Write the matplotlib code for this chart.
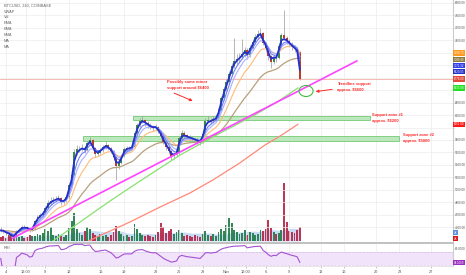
import matplotlib
matplotlib.use("Agg")
import matplotlib.pyplot as plt
import matplotlib.dates as mdates
import matplotlib.transforms as mtransforms
from matplotlib.patches import Ellipse, Rectangle
import numpy as np
import pandas as pd

# BTC/USD, Coinbase (8h candles, starting 3 Oct 2017 08:00)
first_open = 4360
closes = [4347, 4339, 4306, 4290, 4258, 4242, 4339, 4362, 4403, 4395,
          4387, 4362, 4371, 4500, 4564, 4596, 4628, 4708, 4788, 4820,
          4836, 4852, 4868, 4804, 4820, 4885, 5077, 5238, 5607, 5655,
          5662, 5678, 5639, 5752, 5800, 5671, 5575, 5591, 5639, 5688,
          5720, 5671, 5623, 5527, 5382, 5431, 5543, 5655, 5678, 5671,
          5688, 5912, 6041, 6105, 6121, 6073, 6041, 6009, 5993, 6009,
          5945, 5864, 5768, 5688, 5623, 5543, 5559, 5591, 5832, 5912,
          5880, 5848, 5832, 5816, 5800, 5784, 5768, 5896, 6105, 6121,
          6105, 6137, 6153, 6282, 6475, 6619, 6731, 6860, 6988, 7069,
          7101, 7133, 7181, 7245, 7165, 7277, 7374, 7454, 7502, 7518,
          7358, 7277, 7149, 7053, 7133, 7117, 7310, 7480, 7430, 7390,
          7342, 7294, 7261, 7213, 6776]
highs = [4400, 4370, 4360, 4330, 4310, 4280, 4350, 4390, 4430, 4440,
         4420, 4400, 4390, 4520, 4590, 4620, 4660, 4740, 4830, 4880,
         4890, 4900, 4910, 4880, 4850, 4910, 5110, 5290, 5650, 5720,
         5700, 5730, 5700, 5790, 5850, 5820, 5690, 5640, 5670, 5720,
         5780, 5740, 5690, 5640, 5550, 5480, 5570, 5680, 5710, 5700,
         5720, 5950, 6080, 6150, 6190, 6140, 6100, 6070, 6040, 6050,
         6030, 5960, 5890, 5790, 5710, 5640, 5600, 5630, 5870, 5960,
         5940, 5900, 5880, 5860, 5840, 5830, 5810, 5930, 6150, 6180,
         6160, 6190, 6200, 6320, 6510, 6660, 6780, 6900, 7030, 7440,
         7180, 7200, 7420, 7300, 7270, 7320, 7420, 7500, 7560, 7600,
         7540, 7380, 7300, 7170, 7180, 7170, 7350, 7520, 7890, 7470,
         7420, 7370, 7320, 7290, 7230]
lows = [4320, 4300, 4280, 4260, 4230, 4215, 4230, 4320, 4350, 4370,
        4360, 4330, 4340, 4360, 4480, 4540, 4570, 4610, 4690, 4760,
        4790, 4800, 4820, 4760, 4770, 4800, 4870, 5050, 5220, 5560,
        5600, 5620, 5590, 5620, 5720, 5640, 5520, 5540, 5570, 5610,
        5660, 5640, 5590, 5480, 5160, 5330, 5410, 5520, 5630, 5640,
        5650, 5670, 5890, 6010, 6070, 6030, 6000, 5970, 5950, 5960,
        5910, 5820, 5730, 5640, 5570, 5480, 5500, 5520, 5570, 5800,
        5840, 5810, 5790, 5780, 5760, 5740, 5720, 5750, 5880, 6080,
        6060, 6080, 6100, 6130, 6260, 6450, 6590, 6700, 6830, 6950,
        7020, 7060, 7100, 7140, 7100, 7140, 7250, 7340, 7420, 7470,
        7320, 7220, 7080, 6960, 7020, 7060, 7100, 7290, 7400, 7340,
        7300, 7250, 7210, 7170, 6760]
volume = [1200, 1500, 900, 1800, 2400, 1500, 1800, 1200, 1500, 900,
          1200, 1800, 1500, 1500, 2100, 1800, 2400, 3600, 3000, 4200,
          1800, 1500, 2100, 1500, 1200, 1800, 3900, 6000, 8400, 3600,
          2400, 1800, 3000, 4200, 3600, 2400, 1800, 1500, 2100, 1500,
          1800, 1200, 1800, 2700, 4500, 3000, 2100, 1500, 1800, 1200,
          1500, 5100, 3600, 2400, 1800, 1500, 1800, 1500, 1200, 1800,
          2700, 5400, 4200, 2400, 3000, 3600, 2100, 2700, 3300, 2400,
          1500, 1800, 1500, 1200, 1800, 1500, 1200, 2100, 3000, 1800,
          1500, 2100, 1500, 2700, 3600, 3000, 4800, 6900, 5400, 3300,
          2700, 2100, 2400, 3300, 1800, 2700, 2400, 1800, 2100, 3300,
          3000, 3600, 6300, 3900, 2700, 2100, 2400, 3300, 17400, 5700,
          3000, 2700, 2400, 3300, 4200]

# long moving averages, points read along the green and salmon lines
green_ma_times = ["2017-10-08 08:00", "2017-10-09 14:00", "2017-10-13 10:00",
                  "2017-10-17 05:00", "2017-10-21 01:00", "2017-10-26 03:00",
                  "2017-10-31 05:00", "2017-11-04 15:00", "2017-11-07 20:00",
                  "2017-11-10 02:00"]
green_ma_values = [4066, 4146, 4483, 4820, 5142, 5559, 5912, 6202, 6442, 6635]
red_ma_times = ["2017-10-12 18:00", "2017-10-15 13:00", "2017-10-19 18:00",
                "2017-10-23 14:00", "2017-10-27 09:00", "2017-10-30 07:00",
                "2017-11-02 17:00", "2017-11-05 22:00", "2017-11-07 20:00",
                "2017-11-10 02:00"]
red_ma_values = [4066, 4242, 4483, 4724, 4949, 5158, 5431, 5720, 5864, 6051]

# drawings
trend_times = ["2017-10-04 21:00", "2017-11-17 14:00"]
trend_values = [4226, 7069]
zone1_times = ["2017-10-20 02:00", "2017-11-19 06:00"]
zone1_prices = [6120, 6190]
zone2_times = ["2017-10-13 19:00", "2017-11-23 00:00"]
zone2_prices = [5790, 5860]

date_ticks = ["2017-10-04", "2017-10-06 12:00", "2017-10-09", "2017-10-12",
              "2017-10-16", "2017-10-19", "2017-10-23", "2017-10-26",
              "2017-10-29", "2017-11-01", "2017-11-03 12:00", "2017-11-06",
              "2017-11-09", "2017-11-13", "2017-11-16", "2017-11-20",
              "2017-11-23", "2017-11-27"]
date_labels = ["4", "12:00", "9", "12", "16", "19", "23", "26", "29", "Nov",
               "12:00", "6", "9", "13", "16", "20", "23", "27"]
price_ticks = np.arange(4400, 8001, 200)


def dnum(s):
    return mdates.date2num(pd.to_datetime(s))


times = pd.date_range("2017-10-03 08:00", periods=len(closes), freq="8h")
x = mdates.date2num(times)
c = pd.Series(closes, dtype=float)
opens = np.array([first_open] + closes[:-1], dtype=float)
up = c.values >= opens

vwap = c.ewm(span=2, adjust=False).mean()
ema_fast = c.ewm(span=4, adjust=False).mean()
ema_mid = c.ewm(span=6, adjust=False).mean()
ema_orange = c.ewm(span=11, adjust=False).mean()
ema_tan = c.ewm(span=27, adjust=False).mean()

delta = c.diff().fillna(0)
gain = delta.clip(lower=0).ewm(alpha=1 / 14, adjust=False).mean()
loss = (-delta.clip(upper=0)).ewm(alpha=1 / 14, adjust=False).mean()
rsi = (100 - 100 / (1 + gain / loss.replace(0, np.nan))).fillna(50)

vol = pd.Series(volume, dtype=float)
vol_ma = vol.rolling(20, min_periods=1).mean()

sans = ["Liberation Sans", "DejaVu Sans"]
fig = plt.figure(figsize=(4.66, 2.75), dpi=100)
W = 453 / 466
ax = fig.add_axes([0, 1 - 241 / 275, W, 241 / 275])
ax_rsi = fig.add_axes([0, 1 - 266 / 275, W, 23 / 275])
ax_vol = ax.twinx()
ax.set_zorder(ax_vol.get_zorder() + 1)
ax.patch.set_visible(False)

x0 = dnum("2017-10-04") - 0.762
x1 = dnum("2017-10-04") + 56.8
grid_c = "#ececec"
for a in (ax, ax_rsi):
    a.set_xlim(x0, x1)
    for d in date_ticks:
        a.axvline(dnum(d), color=grid_c, lw=0.5, zorder=0)
for p in price_ticks:
    ax.axhline(p, color=grid_c, lw=0.5, zorder=0)

# volume overlay
ax_vol.set_xlim(x0, x1)
ax_vol.set_ylim(0, 241 * 300)
bw = 0.333 * 0.72
vcol = np.where(up, "#1f7a45", "#b52245")
ax_vol.fill_between(x, 0, vol_ma, color="#b9d3f2", alpha=0.8, lw=0, zorder=1)
ax_vol.bar(x, vol, width=bw, color=vcol, alpha=0.9, zorder=2)
ax_vol.set_yticks([])
for s in ax_vol.spines.values():
    s.set_visible(False)

# zones
for zt, zp in ((zone1_times, zone1_prices), (zone2_times, zone2_prices)):
    ax.add_patch(Rectangle((dnum(zt[0]), zp[0]), dnum(zt[1]) - dnum(zt[0]),
                           zp[1] - zp[0], fc="#b6e6b6", ec="#78cc78", lw=0.7,
                           alpha=0.9, zorder=1))

# candles
ax.vlines(x, lows, highs, color="#9a9a9a", lw=0.5, zorder=3)
ax.bar(x, c.values - opens, bottom=opens, width=bw,
       color=np.where(up, "#3a8a4a", "#b83c2c"), zorder=4)

# moving averages
ax.plot(x, ema_tan, color="#b8a07c", lw=0.9, zorder=5)
ax.plot(x, ema_orange, color="#ffbb77", lw=0.8, zorder=5)
ax.plot(x, ema_mid, color="#aab0ff", lw=0.8, zorder=5)
ax.plot(x, ema_fast, color="#6f7dff", lw=0.8, zorder=5)
ax.plot(x, vwap, color="#2430c8", lw=1.3, zorder=6)
ax.plot([dnum(t) for t in green_ma_times], green_ma_values, color="#88e070",
        lw=0.9, zorder=5)
ax.plot([dnum(t) for t in red_ma_times], red_ma_values, color="#ff8878",
        lw=0.9, zorder=5)
ax.plot([dnum(t) for t in trend_times], trend_values, color="#ff44ff", lw=1.2,
        zorder=6)
ax.axhline(closes[-1], color="#f6b0a4", lw=0.6, zorder=2)

ax.add_patch(Ellipse((dnum("2017-11-11 03:00"), 6587), 1.78, 177, fill=False,
                     ec="#44bb44", lw=0.8, zorder=7))

red = "#ff2a2a"
notes = [("2017-10-24 11:00", 6683, "Possibly some minor\nsupport around $6400"),
         ("2017-11-15 02:00", 6651, "Trendline support\napprox. $6600"),
         ("2017-11-19 12:00", 6153, "Support zone #1\napprox. $6200"),
         ("2017-11-23 10:00", 5832, "Support zone #2\napprox. $5800")]
for when, price, txt in notes:
    ax.text(dnum(when), price, txt, color=red, fontsize=2.9, va="center",
            ha="left", linespacing=1.45, fontweight="bold", family=sans,
            zorder=8)
arrow = dict(arrowstyle="-|>", color=red, lw=0.7, mutation_scale=4)
ax.annotate("", xy=(dnum("2017-10-28 01:00"), 6410),
            xytext=(dnum("2017-10-25 01:00"), 6570), arrowprops=arrow, zorder=8)
ax.annotate("", xy=(dnum("2017-11-12 00:00"), 6571),
            xytext=(dnum("2017-11-14 19:00"), 6619), arrowprops=arrow, zorder=8)

# value tags on the price axis
tags = [(ema_orange.iloc[-1], "#ff9a1f"), (ema_fast.iloc[-1], "#3340e8"),
        (ema_tan.iloc[-1], "#8d7a3c"), (vwap.iloc[-1], "#2430c8"),
        (closes[-1], "#e24a3a"), (green_ma_values[-1], "#22e022"),
        (red_ma_values[-1], "#ff1a1a")]
tags.sort(key=lambda t: -t[0])
tag_pos = []
last_y = None
for val, col in tags:
    ypos = val if last_y is None else min(val, last_y - 96)
    last_y = ypos
    tag_pos.append((ypos, val, col))

# price axis (labels hidden under tags)
ax.set_ylim(4178, 8048)
ax.yaxis.tick_right()
ax.set_yticks(price_ticks)
ax.set_yticklabels(["" if any(abs(p - t[0]) < 110 for t in tag_pos) else f"{p:.2f}"
                    for p in price_ticks], family=sans)
ax.tick_params(axis="y", labelsize=2.2, length=1.0, width=0.4, pad=0.6,
               colors="#999999", labelcolor="#555555")
ax.set_xticks([])
for k, s in ax.spines.items():
    s.set_visible(k == "right")
ax.spines["right"].set_color("#cccccc")
ax.spines["right"].set_linewidth(0.8)

tag_kw = dict(fontsize=2.1, color="white", va="center", ha="left",
              clip_on=False, zorder=10, family=sans)
blend = mtransforms.blended_transform_factory(ax.transAxes, ax.transData)
for ypos, val, col in tag_pos:
    ax.text(1.002, ypos, f"{val:.2f}", transform=blend,
            bbox=dict(boxstyle="square,pad=0.25", fc=col, ec="none"), **tag_kw)
ax.text(1.002, 8.5 / 241, f"{vol_ma.iloc[-1] / 1000:.0f}K", transform=ax.transAxes,
        bbox=dict(boxstyle="square,pad=0.25", fc="#5a8ee0", ec="none"), **tag_kw)
ax.text(1.002, 2.5 / 241, f"{vol.iloc[-1] / 1000:.0f}K", transform=ax.transAxes,
        bbox=dict(boxstyle="square,pad=0.25", fc="#d61a1a", ec="none"), **tag_kw)

# RSI pane
ax_rsi.set_ylim(26.9, 97.7)
ax_rsi.axhspan(30, 70, color="#f1e3fa", lw=0, zorder=0)
ax_rsi.axhline(70, color="#c9a8e2", lw=0.5, ls=(0, (1, 1)), zorder=1)
ax_rsi.axhline(30, color="#c9a8e2", lw=0.5, ls=(0, (1, 1)), zorder=1)
ax_rsi.plot(x, rsi.values, color="#a452d2", lw=0.8, zorder=3)
ax_rsi.yaxis.tick_right()
ax_rsi.set_yticks([80])
ax_rsi.set_yticklabels(["80.0000"], family=sans)
ax_rsi.tick_params(axis="y", labelsize=2.2, length=1.0, width=0.4, pad=0.6,
                   colors="#999999", labelcolor="#555555")
ax_rsi.set_xticks([dnum(d) for d in date_ticks])
ax_rsi.set_xticklabels(date_labels, family=sans)
ax_rsi.tick_params(axis="x", labelsize=2.8, length=1.5, width=0.4, pad=1.5,
                   colors="#999999", labelcolor="#555555")
for k, s in ax_rsi.spines.items():
    s.set_visible(k in ("right", "top", "bottom"))
ax_rsi.spines["top"].set_color("#bbbbbb")
ax_rsi.spines["top"].set_linewidth(1.3)
ax_rsi.spines["right"].set_color("#cccccc")
ax_rsi.spines["bottom"].set_color("#dddddd")
ax_rsi.spines["bottom"].set_linewidth(0.5)
ax_rsi.text(1.002, 0.15, f"{rsi.iloc[-1]:.4f}", transform=ax_rsi.transAxes,
            bbox=dict(boxstyle="square,pad=0.25", fc="#9b2fbf", ec="none"),
            **tag_kw)
ax_rsi.text(0.008, 0.78, "RSI", transform=ax_rsi.transAxes, fontsize=2.8,
            color="#555555", va="center", family=sans)

# legend text, top left
legend_rows = ["BTCUSD, 240, COINBASE", "VWAP", "Vol", "EMA", "EMA", "EMA", "MA", "MA"]
for i, row in enumerate(legend_rows):
    fig.text(0.008, 1 - (5.7 + 5.85 * i) / 275, row, fontsize=2.8, color="#666666",
             va="center", ha="left", family=sans)

fig.savefig("out.png", dpi=100)
